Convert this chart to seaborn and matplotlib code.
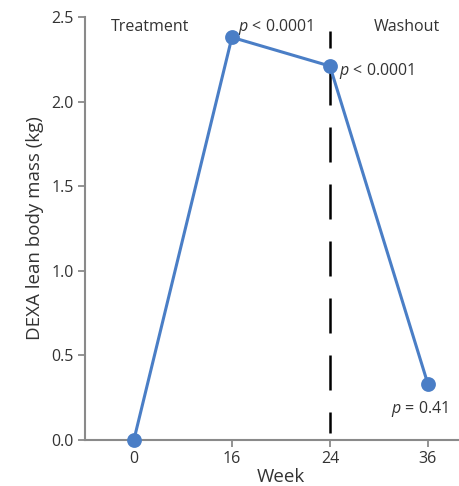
import matplotlib
matplotlib.use('Agg')
import matplotlib.pyplot as plt
import seaborn as sns
import pandas as pd

# --- DATA ---
weeks = ['0', '16', '24', '36']
lean_mass = [0.0, 2.38, 2.21, 0.33]
phase_labels = ['Treatment', 'Washout']
p_labels = ['$p$ < 0.0001', '$p$ < 0.0001', '$p$ = 0.41']
y_ticks = [0.0, 0.5, 1.0, 1.5, 2.0, 2.5]

# --- SETUP ---
sns.set_theme(style="ticks")
plt.rcParams['font.family'] = ['Open Sans', 'DejaVu Sans']
plt.rcParams.update({
    'mathtext.fontset': 'custom',
    'mathtext.it': 'Open Sans:italic',
    'mathtext.rm': 'Open Sans',
    'axes.edgecolor': '#8a8a8a',
    'xtick.color': '#8a8a8a',
    'ytick.color': '#8a8a8a',
    'xtick.labelcolor': '#333333',
    'ytick.labelcolor': '#333333',
})

line_color = '#4a7ec6'
txt_color = '#333333'
df = pd.DataFrame({'week': weeks, 'mass': lean_mass})

# axes runs a bit past the right edge (the original figure is cropped there)
fig = plt.figure(figsize=(4.59, 4.86), dpi=100)
ax = fig.add_axes([0.185, 0.095, 0.854, 0.87])

sns.pointplot(data=df, x='week', y='mass', ax=ax, color=line_color,
              markersize=9, linewidth=2.2, errorbar=None)
for ln in ax.lines:
    ln.set_clip_on(False)
    ln.set_zorder(4)

# dashed line marking end of treatment (week 24)
ax.plot([2, 2], [2.42, 0.04], color='black', lw=1.8,
        linestyle=(7.2, (14, 8.8)), zorder=3)

ax.set_xlim(-0.5, 3.5)
ax.set_ylim(0, 2.5)
ax.set_yticks(y_ticks)
ax.set_yticklabels([f'{v:.1f}' for v in y_ticks])
ax.tick_params(axis='both', labelsize=11.5, length=5, width=1.3, pad=3)
for sp in ['left', 'bottom']:
    ax.spines[sp].set_linewidth(1.5)
sns.despine(ax=ax)

ax.set_xlabel('Week', fontsize=13.5, color=txt_color, labelpad=1)
ax.set_ylabel('DEXA lean body mass (kg)', fontsize=13.5, color=txt_color, labelpad=5)

# annotations
ax.text(0.16, 2.44, phase_labels[0], ha='center', va='center', fontsize=11.5, color=txt_color)
ax.text(2.79, 2.44, phase_labels[1], ha='center', va='center', fontsize=11.5, color=txt_color)
ax.text(1.06, 2.44, p_labels[0], ha='left', va='center', fontsize=11.5, color=txt_color)
ax.text(2.09, 2.18, p_labels[1], ha='left', va='center', fontsize=11.5, color=txt_color)
ax.text(2.92, 0.18, p_labels[2], ha='center', va='center', fontsize=11.5, color=txt_color)

plt.savefig('out.png', dpi=100)
plt.close()
